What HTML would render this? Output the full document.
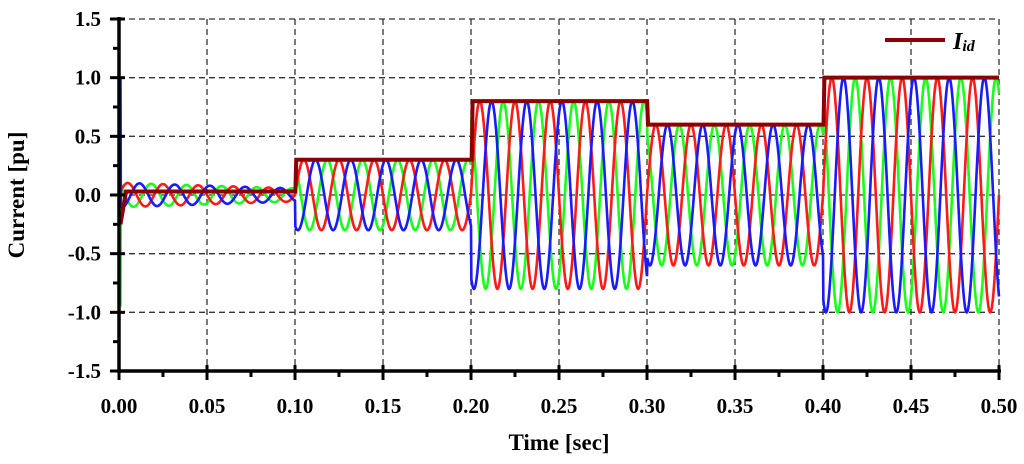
<!DOCTYPE html>
<html><head><meta charset="utf-8"><style>
html,body{margin:0;padding:0;background:#fff;}
svg{display:block;font-family:"Liberation Serif",serif;font-weight:bold;}
</style></head><body>
<svg id="chart" width="1024" height="464" viewBox="0 0 1024 464" xmlns="http://www.w3.org/2000/svg">
<g id="grid"></g>
<g id="series"></g>
<g id="axes"></g>
<text x="24" y="195" transform="rotate(-90 24 195)" text-anchor="middle" font-size="23">Current [pu]</text>
<text x="559" y="450" text-anchor="middle" font-size="23">Time [sec]</text>
<g>
<line x1="885" y1="40" x2="945" y2="40" stroke="#8b0000" stroke-width="4"/>
<text x="953" y="49" font-size="24" font-style="italic">I<tspan font-size="16" dy="2">id</tspan></text>
</g>
</svg>
<script>
const xTicks=[0,0.05,0.1,0.15,0.2,0.25,0.3,0.35,0.4,0.45,0.5];
const xTickLabels=["0.00","0.05","0.10","0.15","0.20","0.25","0.30","0.35","0.40","0.45","0.50"];
const yTicks=[-1.5,-1.0,-0.5,0,0.5,1.0,1.5];
const yTickLabels=["-1.5","-1.0","-0.5","0.0","0.5","1.0","1.5"];
const segStart=[0,0.1,0.2,0.3,0.4];
const segEnd=[0.1,0.2,0.3,0.4,0.5];
const segAmp=[0.07,0.3,0.8,0.6,1.0];
const segIid=[0.03,0.3,0.8,0.6,1.0];
const phasePeak={red:0.005,blue:0.01167,green:0.01833};
const freq=50;

const X0=119,X1=999,Y0=371,Y1=19;
const sx=t=>X0+(t-0)/(0.5)*(X1-X0);
const sy=v=>Y0-(v+1.5)/3*(Y0-Y1);
const NS="http://www.w3.org/2000/svg";
function mk(tag,attrs,parent){const e=document.createElementNS(NS,tag);for(const k in attrs)e.setAttribute(k,attrs[k]);parent.appendChild(e);return e;}
const grid=document.getElementById('grid'),axes=document.getElementById('axes'),series=document.getElementById('series');
xTicks.forEach((t,i)=>{if(i>0){const l=mk('line',{x1:sx(t),x2:sx(t),y1:Y1,y2:Y0,stroke:'#333','stroke-width':1.3,'stroke-dasharray':'6,4'},grid);

}
const tx=mk('text',{x:sx(t),y:413,'text-anchor':'middle','font-size':21},axes);tx.textContent=xTickLabels[i];


mk('line',{x1:sx(t),x2:sx(t),y1:Y0-6,y2:Y0+9,stroke:'#000','stroke-width':3},axes);
if(i<xTicks.length-1){const m=(t+xTicks[i+1])/2;mk('line',{x1:sx(m),x2:sx(m),y1:Y0,y2:Y0+6,stroke:'#000','stroke-width':3},axes);}
});
yTicks.forEach((v,i)=>{if(i>0){const l=mk('line',{x1:X0,x2:X1,y1:sy(v),y2:sy(v),stroke:'#333','stroke-width':1.3,'stroke-dasharray':'6,4'},grid);

}
const tx=mk('text',{x:101,y:sy(v)+7,'text-anchor':'end','font-size':21},axes);tx.textContent=yTickLabels[i];


mk('line',{x1:X0-9,x2:X0+6,y1:sy(v),y2:sy(v),stroke:'#000','stroke-width':3},axes);
if(i<yTicks.length-1){const m=(v+yTicks[i+1])/2;mk('line',{x1:X0-6,x2:X0,y1:sy(m),y2:sy(m),stroke:'#000','stroke-width':3},axes);}
});
mk('line',{x1:X0,x2:X0,y1:Y1-2,y2:Y0+2,stroke:'#000','stroke-width':3.5},axes);
mk('line',{x1:X0-2,x2:X1+2,y1:Y0,y2:Y0,stroke:'#000','stroke-width':3.5},axes);

function ampAt(t){for(let i=0;i<segStart.length;i++){if(t>=segStart[i]&&t<=segEnd[i]){if(i===0)return segAmp[0]*(1.5-0.7*t/0.1);return segAmp[i];}}return 0;}
function iidAt(t){for(let i=0;i<segStart.length;i++){if(t>=segStart[i]&&t<segEnd[i])return segIid[i];}return segIid[segIid.length-1];}
const colors={red:'#ff1a1a',blue:'#1a1aff',green:'#1aff1a'};
const start={red:0,blue:1.0,green:-0.95};
['green','red','blue'].forEach(c=>{let d=`M${sx(0)+1.5},${sy(start[c])}`;const N=2500;
for(let k=1;k<=N;k++){const t=0.5*k/N;const v=ampAt(t)*Math.cos(2*Math.PI*freq*(t-phasePeak[c]));d+=`L${(sx(t)+ (k<3?1.5:0)).toFixed(2)},${sy(v).toFixed(2)}`;}
const p=mk('path',{d:d,fill:'none',stroke:colors[c],'stroke-width':2.6},series);

});
let d=`M${sx(0)+1.5},${sy(-0.25)}L${sx(0.004)},${sy(segIid[0])}`;
for(let k=1;k<=1000;k++){const t=0.004+(0.5-0.004)*k/1000;const tp=t-0.0005;const v=iidAt(tp);d+=`L${sx(t).toFixed(2)},${sy(v).toFixed(2)}`;}
const ip=mk('path',{d:d,fill:'none',stroke:'#8b0000','stroke-width':4},series);


</script>
</body></html>
